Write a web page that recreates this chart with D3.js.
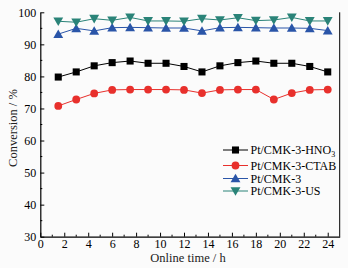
<!DOCTYPE html>
<html>
<head>
<meta charset="utf-8">
<script src="https://cdn.jsdelivr.net/npm/d3@7"></script>
<style>
  body { margin: 0; background: #fbfbfb; }
  svg { display: block; font-family: "Liberation Serif", "DejaVu Serif", serif; font-weight: normal; }
</style>
</head>
<body>
<div id="canvas"></div>
<script>
"use strict"

/* drawing size */
let svgWidth = 348;
let svgHeight = 268;

/* margins */
let leftMargin = 40.3
let rightMargin = 8.3
let topMargin = 12.3
let bottomMargin = 31.3

/* data */
let hours = [1.5, 3, 4.5, 6, 7.5, 9, 10.5, 12, 13.5, 15, 16.5, 18, 19.5, 21, 22.5, 24];
let hno3 = [79.8, 81.4, 83.3, 84.3, 84.8, 84.1, 84.1, 83.1, 81.4, 83.3, 84.3, 84.8, 84.1, 84.1, 83.1, 81.4];
let ctab = [70.8, 72.8, 74.7, 75.8, 75.9, 75.9, 75.9, 75.8, 74.8, 75.8, 75.9, 75.9, 72.8, 74.8, 75.8, 75.9];
let cmk3 = [93.2, 95.0, 94.2, 95.2, 95.3, 95.2, 95.1, 95.1, 94.2, 95.2, 95.3, 95.2, 95.1, 95.1, 95.0, 94.3];
let us = [97.2, 96.9, 98.0, 97.5, 98.4, 97.3, 97.3, 97.2, 98.0, 97.6, 98.3, 97.4, 97.6, 98.4, 97.3, 97.3];

let seriesNames = ["Pt/CMK-3-HNO", "Pt/CMK-3-CTAB", "Pt/CMK-3", "Pt/CMK-3-US"];
let seriesColors = ["#000000", "#e8302c", "#2a55a8", "#2a8378"];
let seriesShapes = ["square", "circle", "up", "down"];
let xTicks = [0, 2, 4, 6, 8, 10, 12, 14, 16, 18, 20, 22, 24];
let yTicks = [30, 40, 50, 60, 70, 80, 90, 100];

let seriesValues = [hno3, ctab, cmk3, us];

let svg = d3.select("#canvas")
    .append("svg")
    .attr("width", svgWidth)
    .attr("height", svgHeight);

/* scales */
let xScale = d3.scaleLinear()
    .domain([0, 25])
    .range([leftMargin, svgWidth - rightMargin]);

let yScale = d3.scaleLinear()
    .domain([30, 100])
    .range([svgHeight - bottomMargin, topMargin]);

/* axes, ticks pointing inward */
let xAxis = d3.axisBottom(xScale)
    .tickValues(xTicks)
    .tickSizeInner(-4)
    .tickSizeOuter(0)
    .tickPadding(3);

let yAxis = d3.axisLeft(yScale)
    .tickValues(yTicks)
    .tickSizeInner(-4)
    .tickSizeOuter(0)
    .tickPadding(4);

let gx = svg.append("g")
    .attr("transform", "translate(0," + yScale(30) + ")")
    .call(xAxis);

let gy = svg.append("g")
    .attr("transform", "translate(" + xScale(0) + ",0)")
    .call(yAxis);

/* minor ticks */
svg.append("g")
    .selectAll("line")
    .data(d3.range(1, 25, 2))
    .join("line")
    .attr("x1", d => xScale(d))
    .attr("x2", d => xScale(d))
    .attr("y1", yScale(30))
    .attr("y2", yScale(30) - 2)
    .attr("stroke", "black");

svg.append("g")
    .selectAll("line")
    .data(d3.range(35, 100, 10))
    .join("line")
    .attr("x1", xScale(0))
    .attr("x2", xScale(0) + 2)
    .attr("y1", d => yScale(d))
    .attr("y2", d => yScale(d))
    .attr("stroke", "black");

/* right border */
svg.append("line")
    .attr("x1", xScale(25))
    .attr("x2", xScale(25))
    .attr("y1", yScale(100))
    .attr("y2", yScale(30))
    .attr("stroke", "black");

[gx, gy].forEach(function(g) {
    g.selectAll("path").attr("stroke", "black").attr("stroke-width", 1.2);
    g.selectAll("line").attr("stroke", "black");
    g.selectAll("text")
        .attr("fill", "black")
        .style("font-family", "Liberation Serif")
        .style("font-size", "12px");
});

/* marker shapes */
function symbolPath(shape) {
    if (shape === "square") return d3.symbol(d3.symbolSquare, 50)();
    if (shape === "circle") return d3.symbol(d3.symbolCircle, 48)();
    return d3.symbol(d3.symbolTriangle, 42)();
}

function drawMarker(g, shape, color, x, y) {
    let p = g.append("path")
        .attr("d", symbolPath(shape))
        .attr("fill", color);
    if (shape === "down") p.attr("transform", "translate(" + x + "," + (y - 1) + ") rotate(180)");
    else if (shape === "up") p.attr("transform", "translate(" + x + "," + (y + 1) + ")");
    else p.attr("transform", "translate(" + x + "," + y + ")");
}

/* series */
let line = d3.line()
    .x(d => xScale(d[0]))
    .y(d => yScale(d[1]));

seriesValues.forEach(function(vals, s) {
    let pts = hours.map((h, i) => [h, vals[i]]);
    svg.append("path")
        .datum(pts)
        .attr("d", line)
        .attr("fill", "none")
        .attr("stroke", seriesColors[s])
        .attr("stroke-width", 1);
    let g = svg.append("g");
    pts.forEach(function(p) {
        drawMarker(g, seriesShapes[s], seriesColors[s], xScale(p[0]), yScale(p[1]));
    });
});

/* axis labels */
svg.append("text")
    .attr("x", 188)
    .attr("y", 262)
    .attr("text-anchor", "middle")
    .attr("fill", "#222")
    .style("font-family", "Liberation Serif")
    .style("font-size", "12.5px")
    .text("Online time / h");

svg.append("text")
    .attr("transform", "translate(17,128) rotate(-90)")
    .attr("text-anchor", "middle")
    .attr("fill", "#222")
    .style("font-family", "Liberation Serif")
    .style("font-size", "12.5px")
    .text("Conversion / %");

/* legend */
let legendY = [150, 165.5, 178.5, 191];
seriesNames.forEach(function(name, i) {
    let g = svg.append("g");
    g.append("line")
        .attr("x1", 223)
        .attr("x2", 248)
        .attr("y1", legendY[i])
        .attr("y2", legendY[i])
        .attr("stroke", seriesColors[i]);
    drawMarker(g, seriesShapes[i], seriesColors[i], 235.5, legendY[i]);
    let t = g.append("text")
        .attr("x", 250.5)
        .attr("y", legendY[i] + 4.2)
        .style("font-size", "12px")
        .text(name);
    if (i === 0) {
        t.append("tspan")
            .attr("dy", 3)
            .style("font-size", "8px")
            .text("3");
    }
});
</script>
</body>
</html>
